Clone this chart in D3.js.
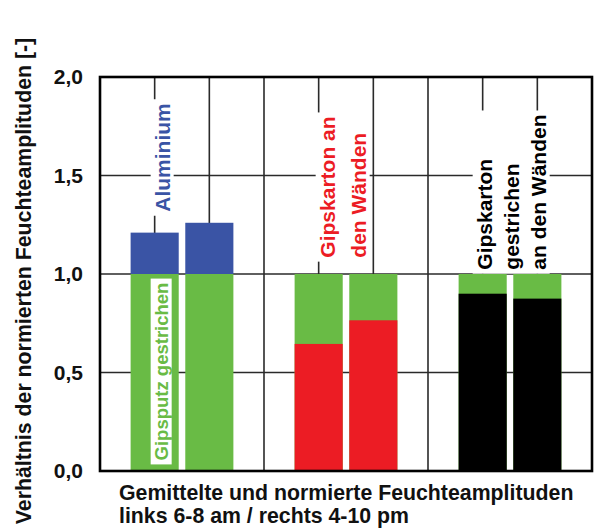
<!DOCTYPE html>
<html lang="de">
<meta charset="utf-8">
<head>
    <script src="https://d3js.org/d3.v7.min.js"></script>
    <style>
        body { margin: 0; background: #fff; }
        text { font-family: "Liberation Sans", Arial, sans-serif; font-weight: bold; }
    </style>
</head>
<body>
<script>

// slots along the x axis: empty ones are spacers between the groups
const slots = ["s0", "Al am", "Al pm", "s3", "GK am", "GK pm", "s6", "GKg am", "GKg pm", "s9"];
// bars: left = 6-8 am, right = 4-10 pm
const bars = ["Al am", "Al pm", "GK am", "GK pm", "GKg am", "GKg pm"];
const groupOf = ["Aluminium", "Aluminium", "Gipskarton", "Gipskarton", "Gipskarton gestrichen", "Gipskarton gestrichen"];
// Gipsputz gestrichen is the reference (= 1,0)
const reference = [1, 1, 1, 1, 1, 1];
const ratio = [1.21, 1.26, 0.645, 0.765, 0.90, 0.875];

const yTicks = [0, 0.5, 1, 1.5, 2];
const yTickLabels = ["0,0", "0,5", "1,0", "1,5", "2,0"];

const groupLabels = [
    ["Aluminium"],
    ["Gipskarton an", "den Wänden"],
    ["Gipskarton", "gestrichen", "an den Wänden"]
];

const colors = {
    "Aluminium": "#3a54a5",
    "Gipskarton": "#ec1c24",
    "Gipskarton gestrichen": "#000000",
    reference: "#69bb45"
};

const width = 594, height = 532;
const margin = {top: 77, right: 2, bottom: 60, left: 100};

const svg = d3.select("body")
    .append("svg")
    .attr("width", width)
    .attr("height", height);

const x = d3.scalePoint()
    .domain(slots)
    .range([margin.left, width - margin.right]);

const y = d3.scaleLinear()
    .domain([0, 2])
    .range([height - margin.bottom - 1, margin.top]);

const barW = x.step() * 0.88;

// grid
const grid = svg.append("g")
    .attr("stroke", "#2a2a2a")
    .attr("stroke-width", 1.6);

grid.selectAll("line.v")
    .data(slots.slice(1, -1))
    .join("line")
    .attr("class", "v")
    .attr("x1", d => x(d)).attr("x2", d => x(d))
    .attr("y1", y(2)).attr("y2", y(0));

grid.selectAll("line.h")
    .data(yTicks.slice(1, -1))
    .join("line")
    .attr("class", "h")
    .attr("x1", x.range()[0]).attr("x2", x.range()[1])
    .attr("y1", d => y(d)).attr("y2", d => y(d));

// label layout: slot the label hangs on, value where it starts, offsets in px
const labelLayout = [
    {slot: "Al am", v: 1.316, dx: 15, lh: 30, color: colors["Aluminium"]},
    {slot: "GK am", v: 1.083, dx: 16, lh: 31, color: colors["Gipskarton"]},
    {slot: "GKg am", v: 1.022, dx: 9, lh: 27, color: colors["Gipskarton gestrichen"]}
];

// reference bars (green)
svg.append("g")
    .selectAll("rect")
    .data(bars)
    .join("rect")
    .attr("x", d => x(d) - barW / 2)
    .attr("width", barW)
    .attr("y", (d, i) => y(reference[i]))
    .attr("height", (d, i) => y(0) - y(reference[i]))
    .attr("fill", colors.reference);

// comparison: above 1 stacked on top, below 1 drawn from the bottom
svg.append("g")
    .selectAll("rect")
    .data(bars)
    .join("rect")
    .attr("x", d => x(d) - barW / 2)
    .attr("width", barW)
    .attr("y", (d, i) => y(ratio[i]))
    .attr("height", (d, i) => ratio[i] > reference[i] ? y(reference[i]) - y(ratio[i]) : y(0) - y(ratio[i]))
    .attr("fill", (d, i) => colors[groupOf[i]]);

// vertical group labels with white background
function vLabel(px, py, lines, lh, color, size, anchor) {
    const g = svg.append("g")
        .attr("transform", `translate(${px},${py}) rotate(-90)`);
    const bg = g.append("rect").attr("fill", "#fff");
    const t = g.append("text")
        .attr("fill", color)
        .attr("font-size", size)
        .attr("text-anchor", anchor);
    lines.forEach((l, i) => {
        t.append("tspan").attr("x", 0).attr("y", -(lines.length - 1 - i) * lh).text(l);
    });
    const b = t.node().getBBox();
    const pad = 4;
    bg.attr("x", b.x - pad).attr("y", b.y)
      .attr("width", b.width + 2 * pad).attr("height", b.height);
    return g;
}

labelLayout.forEach((l, i) => {
    vLabel(x(l.slot) + l.dx + (groupLabels[i].length - 1) * l.lh, y(l.v),
        groupLabels[i], l.lh, l.color, 21, "start");
});

vLabel(x("Al am") + 13, y(0.5) - 1, ["Gipsputz gestrichen"], 0, colors.reference, 18.5, "middle");

// frame
svg.append("rect")
    .attr("x", x.range()[0])
    .attr("y", y(2))
    .attr("width", x.range()[1] - x.range()[0])
    .attr("height", y(0) - y(2))
    .attr("fill", "none")
    .attr("stroke", "#000")
    .attr("stroke-width", 2.6);

// y axis labels
const yAxis = svg.append("g")
    .attr("transform", `translate(${margin.left},0)`)
    .call(d3.axisLeft(y).tickValues(yTicks).tickFormat((d, i) => yTickLabels[i]).tickSize(0).tickPadding(17));
yAxis.select(".domain").remove();
yAxis.selectAll("text")
    .attr("font-size", 21)
    .attr("font-family", "Liberation Sans, Arial, sans-serif")
    .attr("fill", "#111");

svg.append("text")
    .attr("transform", `translate(31,281) rotate(-90)`)
    .attr("text-anchor", "middle")
    .attr("font-size", 21.3)
    .attr("fill", "#111")
    .text("Verhältnis der normierten Feuchteamplituden [-]");

// x title
const xt = svg.append("text")
    .attr("font-size", 21.3)
    .attr("fill", "#111");
xt.append("tspan").attr("x", 119).attr("y", 500).text("Gemittelte und normierte Feuchteamplituden");
xt.append("tspan").attr("x", 119).attr("y", 523).text("links 6-8 am / rechts 4-10 pm");

</script>
</body>
</html>
